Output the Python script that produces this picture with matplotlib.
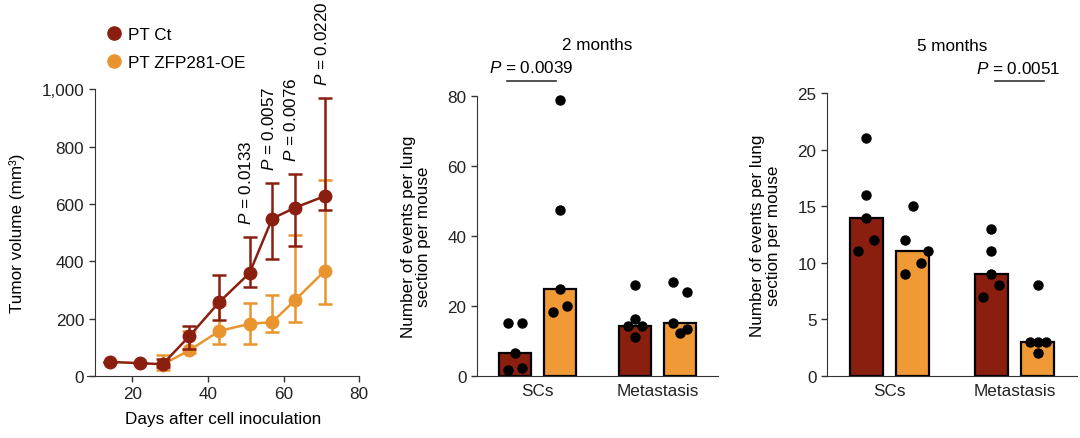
import numpy as np
import matplotlib
matplotlib.use("Agg")
from matplotlib import pyplot as plt
from matplotlib.lines import Line2D

plt.rcParams['font.family'] = ['Liberation Sans', 'DejaVu Sans']
plt.rcParams['mathtext.fontset'] = 'custom'
plt.rcParams['mathtext.rm'] = 'Liberation Sans'
plt.rcParams['mathtext.it'] = 'Liberation Sans:italic'
plt.rcParams['font.size'] = 12.3
plt.rcParams['axes.edgecolor'] = '#333333'
plt.rcParams['xtick.color'] = '#333333'
plt.rcParams['ytick.color'] = '#333333'
plt.rcParams['xtick.labelcolor'] = '#222222'
plt.rcParams['ytick.labelcolor'] = '#222222'

RED = '#8a1f10'
ORANGE = '#f09a37'
LINE_ORANGE = '#e9952f'
FS = 12.3

# --- tumour growth curve ---
days = [14, 22, 28, 35, 43, 51, 57, 63, 71]
ct_mean = [49, 45, 41, 138, 258, 359, 549, 587, 628]
ct_upper = [49, 45, 60, 176, 353, 485, 673, 706, 970]
ct_lower = [49, 45, 30, 95, 194, 312, 409, 453, 578]
oe_days = [28, 35, 43, 51, 57, 63, 71]
oe_mean = [40, 89, 157, 182, 188, 264, 368]
oe_upper = [75, 156, 249, 255, 284, 493, 685]
oe_lower = [22, 80, 110, 110, 153, 188, 250]
pval_days = [51, 57, 63, 71]
pval_text = ['0.0133', '0.0057', '0.0076', '0.0220']

# --- lung events, values per mouse ---
groups = ['SCs', 'Metastasis']
m2_ct = [[15, 15, 6.5, 1.5, 2.3], [25.9, 16.2, 14.3, 14.3, 11.2]]
m2_oe = [[78.7, 47.4, 24.8, 18.1, 20.0], [26.9, 24.0, 15.1, 12.1, 13.3]]
m5_ct = [[21, 16, 14, 12, 11], [13, 11, 9, 8, 7]]
m5_oe = [[15, 12, 11, 10, 9], [8, 3, 3, 3, 2]]

# dot spread (in units of one dot step) so points don't overlap
m2_ct_jit = [[-1, 1, 0, -1, 1], [0, 0, -1, 1, 0]]
m2_oe_jit = [[0, 0, 0, -1, 1], [-1, 1, -1, 0, 1]]
m5_ct_jit = [[0, 0, 0, 1, -1], [0, 0, 0, 1, -1]]
m5_oe_jit = [[0, -1, 2, 1, -1], [0, -1, 0, 1, 0]]

fig = plt.figure(figsize=(10.8, 4.39), dpi=100)

# ---------- panel 1 ----------
ax1 = fig.add_axes([0.0806, 0.1412, 0.2519, 0.653])
d = np.array(days)
m = np.array(ct_mean)
od = np.array(oe_days)
om = np.array(oe_mean)
ax1.errorbar(od, om, yerr=[om - np.array(oe_lower), np.array(oe_upper) - om],
             color=LINE_ORANGE, lw=1.8, elinewidth=1.8, capsize=5, capthick=1.8,
             marker='o', ms=9, zorder=2)
ax1.errorbar(d, m, yerr=[m - np.array(ct_lower), np.array(ct_upper) - m],
             color=RED, lw=1.8, elinewidth=1.8, capsize=5, capthick=1.8,
             marker='o', ms=9, zorder=3)
for day, txt in zip(pval_days, pval_text):
    top = ct_upper[days.index(day)]
    ax1.text(day - 0.9, top + 45, '$P$ = ' + txt, rotation=90,
             ha='center', va='bottom', fontsize=FS)
ax1.set_xlim(8, 80)
ax1.set_ylim(0, 1000)
ax1.set_xticks([20, 40, 60, 80])
ax1.set_yticks(range(0, 1001, 200))
ax1.set_yticklabels(['{:,}'.format(v) for v in range(0, 1001, 200)])
ax1.spines['left'].set_position(('data', 10))
ax1.spines['left'].set_bounds(0, 1000)
for s in ['top', 'right']:
    ax1.spines[s].set_visible(False)
ax1.tick_params(length=4, width=1)
ax1.set_xlabel('Days after cell inoculation', labelpad=7)
ax1.set_ylabel('Tumor volume (mm³)')
ax1.yaxis.set_label_coords(-0.228, 0.5)
handles = [Line2D([], [], ls='none', marker='o', ms=9.5, color=RED),
           Line2D([], [], ls='none', marker='o', ms=9.5, color=LINE_ORANGE)]
ax1.legend(handles, ['PT Ct', 'PT ZFP281-OE'], loc='lower left', bbox_to_anchor=(0.055, 1.045),
           frameon=False, handlelength=0.6, handletextpad=0.5,
           labelspacing=0.72, borderaxespad=0, fontsize=FS)


def bar_panel(ax, ct, oe, ct_jit, oe_jit, step, ymax, yticks, title, pad):
    off = 0.187
    w = 0.265
    for i in range(len(groups)):
        for vals, jit, col, dx in [(ct[i], ct_jit[i], RED, -off), (oe[i], oe_jit[i], ORANGE, off)]:
            ax.bar(i + dx, np.median(vals), width=w, color=col, edgecolor='black',
                   linewidth=1.6, zorder=2)
            ax.plot(i + dx + np.array(jit) * step, vals, 'o', color='black', ms=6.5,
                    zorder=3, clip_on=False)
    ax.set_xlim(-0.5, 1.5)
    ax.set_ylim(0, ymax)
    ax.set_yticks(yticks)
    ax.set_xticks(range(len(groups)))
    ax.set_xticklabels(groups)
    ax.tick_params(axis='x', length=0, pad=5)
    ax.tick_params(axis='y', length=4, width=1)
    for s in ['top', 'right']:
        ax.spines[s].set_visible(False)
    ax.set_title(title, fontsize=FS, pad=pad)
    ax.set_ylabel('Number of events per lung\nsection per mouse', linespacing=1.05)


ax2 = fig.add_axes([0.4417, 0.1419, 0.2231, 0.6378])
bar_panel(ax2, m2_ct, m2_oe, m2_ct_jit, m2_oe_jit, 0.058, 80, [0, 20, 40, 60, 80], '2 months', 33.5)
ax2.yaxis.set_label_coords(-0.19, 0.5)
ax2.plot([-0.254, 0.156], [84.3, 84.3], color='#333333', lw=1.2, clip_on=False)
ax2.text(-0.05, 86.0, '$P$ = 0.0039', ha='center', va='bottom', fontsize=FS)

ax3 = fig.add_axes([0.7657, 0.1419, 0.2315, 0.6433])
bar_panel(ax3, m5_ct, m5_oe, m5_ct_jit, m5_oe_jit, 0.0615, 25, [0, 5, 10, 15, 20, 25], '5 months', 31.5)
ax3.yaxis.set_label_coords(-0.184, 0.5)
ax3.plot([0.844, 1.236], [26.1, 26.1], color='#333333', lw=1.2, clip_on=False)
ax3.text(1.03, 26.55, '$P$ = 0.0051', ha='center', va='bottom', fontsize=FS)

fig.savefig('out.png', dpi=100)
